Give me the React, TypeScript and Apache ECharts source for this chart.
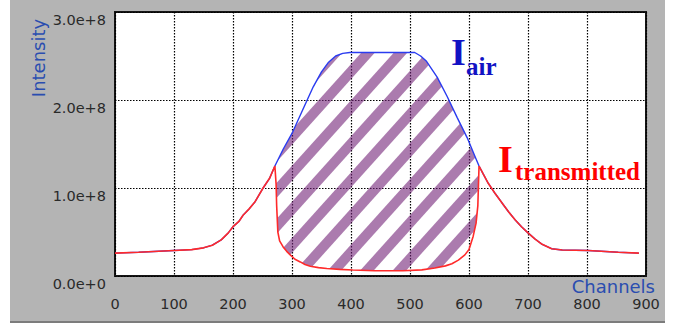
import React, { useEffect, useRef } from "react";
import * as echarts from "echarts";

// I_transmitted (red) — channel, intensity
const transmittedChannels = [0, 40, 100, 130, 150, 165, 180, 192, 200, 210, 217, 227, 237, 251, 262, 271, 273, 274, 276, 279, 285, 291, 297, 305, 314, 322, 331, 345, 359, 381, 403, 440, 488, 520, 542, 560, 571, 582, 593, 600, 607, 612, 615, 617, 624, 632, 644, 656, 667, 678, 689, 700, 712, 724, 740, 758, 802, 853, 888];
const transmittedValues = [0.26e8, 0.27e8, 0.29e8, 0.3e8, 0.32e8, 0.35e8, 0.41e8, 0.49e8, 0.56e8, 0.62e8, 0.69e8, 0.76e8, 0.84e8, 1.0e8, 1.11e8, 1.25e8, 1.05e8, 0.8e8, 0.5e8, 0.4e8, 0.33e8, 0.28e8, 0.24e8, 0.19e8, 0.16e8, 0.13e8, 0.11e8, 0.095e8, 0.085e8, 0.075e8, 0.068e8, 0.06e8, 0.06e8, 0.07e8, 0.09e8, 0.115e8, 0.14e8, 0.18e8, 0.24e8, 0.3e8, 0.45e8, 0.6e8, 0.8e8, 1.25e8, 1.16e8, 1.06e8, 0.94e8, 0.83e8, 0.73e8, 0.64e8, 0.56e8, 0.49e8, 0.42e8, 0.36e8, 0.31e8, 0.295e8, 0.29e8, 0.27e8, 0.26e8];

// I_air (blue) where it differs from I_transmitted
const airChannels = [271, 285, 300, 319, 336, 350, 362, 374, 386, 398, 508, 518, 528, 546, 563, 580, 597, 610, 617];
const airValues = [1.25e8, 1.44e8, 1.62e8, 1.9e8, 2.15e8, 2.32e8, 2.43e8, 2.5e8, 2.53e8, 2.54e8, 2.54e8, 2.5e8, 2.44e8, 2.26e8, 2.04e8, 1.8e8, 1.57e8, 1.36e8, 1.25e8];

const xTicks = { min: 0, max: 900, interval: 100 };
const yTicks = { min: 0, max: 3e8, interval: 1e8 };

const AX_FONT = "DejaVu Sans";

export default function App() {
  const ref = useRef<HTMLDivElement>(null);
  useEffect(() => {
    if (!ref.current) return;
    const chart = echarts.init(ref.current, undefined, { renderer: "svg" });

    const red = transmittedChannels.map((c, i) => [c, transmittedValues[i]]);
    const airStart = airChannels[0];
    const airEnd = airChannels[airChannels.length - 1];
    const blue = [
      ...red.filter((p) => p[0] < airStart),
      ...airChannels.map((c, i) => [c, airValues[i]]),
      ...red.filter((p) => p[0] > airEnd),
    ];
    const lowerInside = red.filter((p) => p[0] >= airStart && p[0] <= airEnd);

    const k = 1 / Math.tan((48 * Math.PI) / 180);
    const period = 32.5;
    const phase = 448;
    const stripeW = 13.5;

    const splitLine = { show: true, lineStyle: { color: "#000", type: [1.5, 1.5], width: 1.2 } };

    chart.setOption({
      animation: false,
      backgroundColor: "#ffffff",
      grid: {
        left: 115,
        top: 12,
        width: 531,
        height: 264,
        show: true,
        backgroundColor: "#ffffff",
        borderColor: "#151515",
        borderWidth: 2,
      },
      xAxis: {
        type: "value",
        z: 2,
        ...xTicks,
        name: "Channels",
        nameLocation: "end",
        nameGap: 9,
        nameTextStyle: {
          color: "#2a4db0",
          fontFamily: AX_FONT,
          fontSize: 18,
          align: "right",
          verticalAlign: "top",
          padding: [1, 0, 0, 0],
        },
        axisLine: { show: false },
        axisTick: { show: false },
        axisLabel: { color: "#2a2a2a", fontFamily: AX_FONT, fontSize: 14.5, margin: 20 },
        splitLine,
      },
      yAxis: {
        type: "value",
        z: 2,
        ...yTicks,
        axisLine: { show: false },
        axisTick: { show: false },
        axisLabel: {
          color: "#2a2a2a",
          fontFamily: AX_FONT,
          fontSize: 14.5,
          margin: 9,
          verticalAlign: "top",
          formatter: (v: number) => v.toExponential(1),
        },
        splitLine,
      },
      graphic: [
        { type: "rect", z: -10, shape: { x: 10, y: 0, width: 655, height: 321 }, style: { fill: "#b4b4b4" } },
        { type: "rect", z: -10, shape: { x: 10, y: 321, width: 655, height: 2 }, style: { fill: "#7c7c7c" } },
        {
          type: "text",
          z: 50,
          x: 38,
          y: 58,
          rotation: Math.PI / 2,
          style: {
            text: "Intensity",
            fill: "#2a4db0",
            font: `18px "${AX_FONT}"`,
            align: "center",
            verticalAlign: "middle",
          },
        },
        {
          type: "text",
          z: 50,
          x: 451,
          y: 51.5,
          style: { text: "I", fill: "#1212c4", font: 'bold 38px "Liberation Serif"', align: "left", verticalAlign: "middle" },
        },
        {
          type: "text",
          z: 50,
          x: 466,
          y: 66,
          style: { text: "air", fill: "#1212c4", font: 'bold 25px "Liberation Serif"', align: "left", verticalAlign: "middle" },
        },
        {
          type: "text",
          z: 50,
          x: 498,
          y: 159,
          style: { text: "I", fill: "#ff0000", font: 'bold 38px "Liberation Serif"', align: "left", verticalAlign: "middle" },
        },
        {
          type: "text",
          z: 50,
          x: 515,
          y: 171.5,
          style: { text: "transmitted", fill: "#ff0000", font: 'bold 25px "Liberation Serif"', align: "left", verticalAlign: "middle" },
        },
      ],
      series: [
        {
          type: "custom",
          z: 3,
          silent: true,
          data: [[0, 0]],
          renderItem: (params: any, api: any) => {
            const cs = params.coordSys;
            const upper = airChannels.map((c, i) => api.coord([c, airValues[i]]));
            const lower = lowerInside.slice().reverse().map((p) => api.coord(p));
            const region = upper.concat(lower);
            const yT = cs.y;
            const yB = cs.y + cs.height;
            const cMin = cs.x + k * yT - period;
            const cMax = cs.x + cs.width + k * yB + period;
            let c = phase - Math.ceil((phase - cMin) / period) * period;
            const children: any[] = [];
            for (; c <= cMax; c += period) {
              children.push({
                type: "polygon",
                shape: {
                  points: [
                    [c - stripeW / 2 - k * yT, yT],
                    [c + stripeW / 2 - k * yT, yT],
                    [c + stripeW / 2 - k * yB, yB],
                    [c - stripeW / 2 - k * yB, yB],
                  ],
                },
                style: { fill: "rgba(115,35,120,0.6)" },
              });
            }
            return {
              type: "group",
              clipPath: { type: "polygon", shape: { points: region } },
              children,
            };
          },
        },
        {
          type: "line",
          z: 4,
          data: blue,
          showSymbol: false,
          lineStyle: { color: "#2a3cf0", width: 1.4 },
        },
        {
          type: "line",
          z: 5,
          data: red,
          showSymbol: false,
          lineStyle: { color: "#ff2a2a", width: 1.6 },
        },
      ],
    });
    return () => chart.dispose();
  }, []);
  return <div ref={ref} style={{ position: "absolute", left: 0, top: 0, width: 675, height: 328 }} />;
}
